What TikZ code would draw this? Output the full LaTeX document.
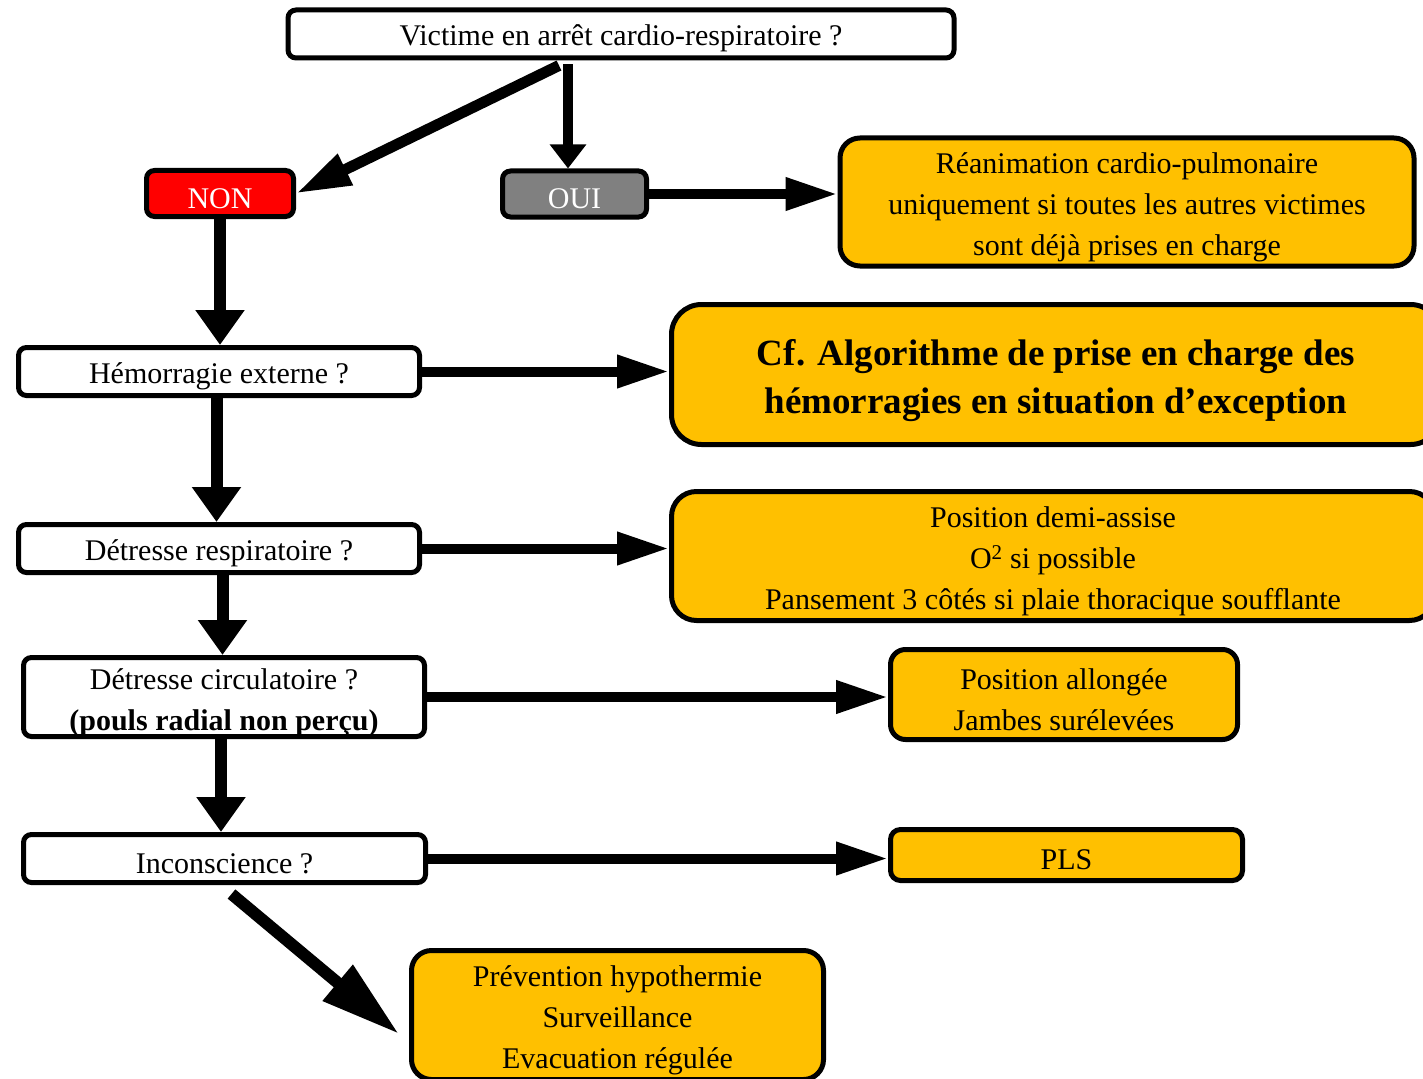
\documentclass[tikz,border=0pt]{standalone}
\usepackage{fontspec}
\setmainfont{Liberation Serif}
\usetikzlibrary{arrows.meta}
\definecolor{boxorange}{HTML}{FFC000}
\definecolor{boxred}{HTML}{FF0000}
\definecolor{boxgray}{HTML}{808080}
\newcommand\txtnorm{\fontsize{30}{41}\selectfont}
\newcommand\txtbig{\fontsize{37}{48}\selectfont\bfseries}
% taller first line, so the text block sits a little lower in its box
\newcommand\lift{\rule{0pt}{1.05em}}
\begin{document}
\begin{tikzpicture}[x=1pt,y=-1pt,
  box/.style={draw=black, line width=5pt, rounded corners=8pt, inner sep=0pt,
    align=center, font=\txtnorm, text=black, fill=white,
    execute at begin node={\rule{0pt}{1.0em}}},
  action/.style={box, fill=boxorange},
  harr/.style={line width=10pt, -{Triangle[length=52pt,width=31pt]}},
  varr/.style={line width=12pt, -{Triangle[length=35pt,width=47pt]}}]
\useasboundingbox (0,0) rectangle (1423,1078);
\clip (0,0) rectangle (1423,1078);
\fill[white] (0,0) rectangle (1423,1078);

% question column
\node[box, minimum width=666pt, minimum height=48pt] (top) at (621,34)
  {Victime en arrêt cardio-respiratoire ?};
\node[box, fill=boxred, text=white, minimum width=147pt, minimum height=46pt] (non) at (220,193.5) {NON};
\node[box, fill=boxgray, text=white, minimum width=144pt, minimum height=46pt] (oui) at (574.5,194) {OUI};
\node[box, minimum width=401pt, minimum height=48pt] (hem) at (219,371.5) {Hémorragie externe ?};
\node[box, minimum width=401pt, minimum height=48pt] (resp) at (219,548.5) {Détresse respiratoire ?};
\node[box, minimum width=401pt, minimum height=79pt] (circ) at (224,697)
  {\lift Détresse circulatoire ?\\\textbf{(pouls radial non perçu)}};
\node[box, minimum width=402pt, minimum height=48pt] (incon) at (224.5,858.5) {Inconscience ?};

% actions
\node[action, rounded corners=20pt, minimum width=574pt, minimum height=128pt] (rcp) at (1127,202)
  {\lift Réanimation cardio-pulmonaire\\uniquement si toutes les autres victimes\\sont déjà prises en charge};
\node[action, rounded corners=30pt, font=\txtbig, minimum width=769pt, minimum height=140pt] (cf) at (1056,374.5)
  {\lift Cf. Algorithme de prise en charge des\\hémorragies en situation d’exception};
\node[action, rounded corners=25pt, minimum width=763pt, minimum height=129pt] (demi) at (1053,556)
  {\lift Position demi-assise\\O\textsuperscript{2} si possible\\Pansement 3 côtés si plaie thoracique soufflante};
\node[action, rounded corners=15pt, minimum width=347pt, minimum height=90pt] (allong) at (1064,694.5)
  {\lift Position allongée\\Jambes surélevées};
\node[action, rounded corners=10pt, minimum width=352pt, minimum height=51pt] (pls) at (1066.5,855) {PLS};
\node[action, rounded corners=20pt, minimum width=412pt, minimum height=129pt] (prev) at (617.5,1015)
  {\lift Prévention hypothermie\\Surveillance\\Evacuation régulée};

% connectors
\draw[line width=11pt, -{Triangle[length=55pt,width=32pt]}]
  ([shift={(-62,5)}]top.south) -- (non.east);
\draw[line width=10pt, -{Triangle[length=24pt,width=35pt]}]
  ([shift={(-53,4)}]top.south) -- ([xshift=-53pt]top.south |- oui.north);
\draw[harr] (oui.east) -- (oui.east -| rcp.west);
\draw[varr] (non.south) -- (non.south |- hem.north);
\draw[harr] (hem.east) -- (hem.east -| cf.west);
\draw[varr] ([xshift=-2.5pt]hem.south) -- ([xshift=-2.5pt]hem.south |- resp.north);
\draw[harr] (resp.east) -- (resp.east -| demi.west);
\draw[varr] ([xshift=3.5pt]resp.south) -- ([xshift=3.5pt]resp.south |- circ.north);
\draw[harr] (circ.east) -- (circ.east -| allong.west);
\draw[varr] ([xshift=-3pt]circ.south) -- ([xshift=-3pt]circ.south |- incon.north);
\draw[harr] (incon.east) -- (incon.east -| pls.west);
\draw[line width=12pt, -{Triangle[length=80pt,width=44pt]}]
  ([shift={(7,9)}]incon.south) -- ([shift={(-10,19)}]prev.west);
\end{tikzpicture}
\end{document}
